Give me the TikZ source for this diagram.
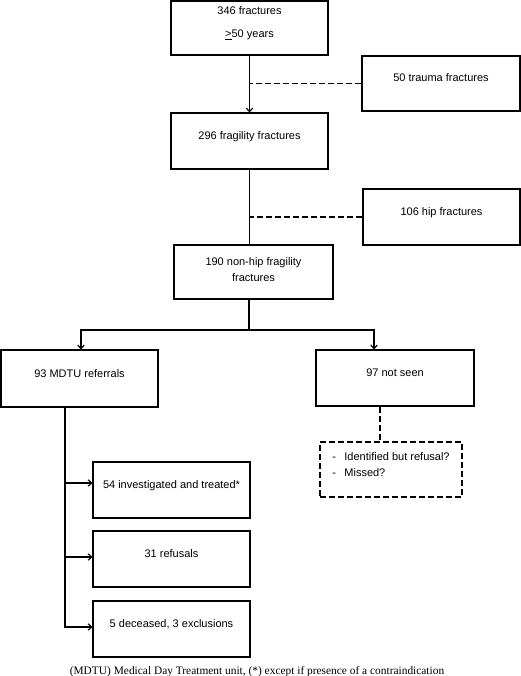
\documentclass[tikz,border=0pt]{standalone}
\usepackage{fontspec}
\setmainfont{Liberation Sans}
\newfontfamily\capfont{Liberation Serif}
\usetikzlibrary{arrows.meta}
\tikzset{
  >={Straight Barb[length=3.5pt,width=6.5pt]},
  box/.style={draw, line width=1.1pt, inner sep=0pt, minimum width=157pt, minimum height=56pt,
    font=\fontsize{11}{16}\selectfont, text height=8pt, text depth=11pt},
  dashline/.style={line width=1.1pt, dash pattern=on 6pt off 3pt},
  link/.style={line width=1.2pt}
}
\begin{document}
\begin{tikzpicture}[x=1pt,y=-1pt]
\useasboundingbox (0,0) rectangle (521,676);
% main column
\node[box, minimum height=54pt, align=center, text height=32pt, text depth=12pt] (all) at (249.5,28) {346 fractures\\[7pt]\underline{>}50 years};
\node[box, minimum width=158pt, minimum height=55pt] (trauma) at (441,83.5) {50 trauma fractures};
\node[box] (fragile) at (249.5,141) {296 fragility fractures};
\node[box] (hip) at (441.5,217) {106 hip fractures};
\node[box, minimum width=159pt, minimum height=54pt, align=center, text height=26pt, text depth=8pt] (nonhip) at (253.5,272) {190 non-hip fragility\\fractures};
% the two branches
\node[box, minimum height=57pt] (mdtu) at (79.5,378.5) {93 MDTU referrals};
\node[box, minimum width=158pt] (notseen) at (395,378) {97 not seen};
\node[box, dashline, minimum width=142pt, minimum height=55pt, align=left, text height=26pt, text depth=13pt] (why) at (391,469.5) {\makebox[12pt][l]{-}Identified but refusal?\\\makebox[12pt][l]{-}Missed?};
\node[box] (treated) at (171.5,490) {54 investigated and treated*};
\node[box] (refusal) at (171.5,559) {31 refusals};
\node[box] (excl) at (171.5,629) {5 deceased, 3 exclusions};
\node[font=\capfont\fontsize{11.4}{13}\selectfont, anchor=base] (note) at (257,674) {(MDTU) Medical Day Treatment unit, (*) except if presence of a contraindication};
% connectors
\draw[link,->] (all.south) -- (fragile.north);
\draw[dashline] (trauma.west) -- (trauma.west -| all.south);
\draw[link] (fragile.south) -- (fragile.south |- nonhip.north);
\draw[dashline] (hip.west) -- (hip.west -| fragile.south);
\coordinate (fork) at (249,330);
\draw[link] (nonhip.south -| fork) -- (fork);
\draw[link,->] (fork) -| ([xshift=1.5pt]mdtu.north);
\draw[link,->] (fork) -| ([xshift=-21pt]notseen.north);
\draw[dashline] ([xshift=-15pt]notseen.south) -- ([xshift=-15pt]notseen.south |- why.north);
\coordinate (trunk) at ([xshift=-14.5pt]mdtu.south);
\foreach \dest/\dy in {treated/7pt, refusal/2pt, excl/2pt} % edit here for the side arrows
\draw[link,->] (trunk) |- ([yshift=\dy]\dest.west);
\end{tikzpicture}
\end{document}
